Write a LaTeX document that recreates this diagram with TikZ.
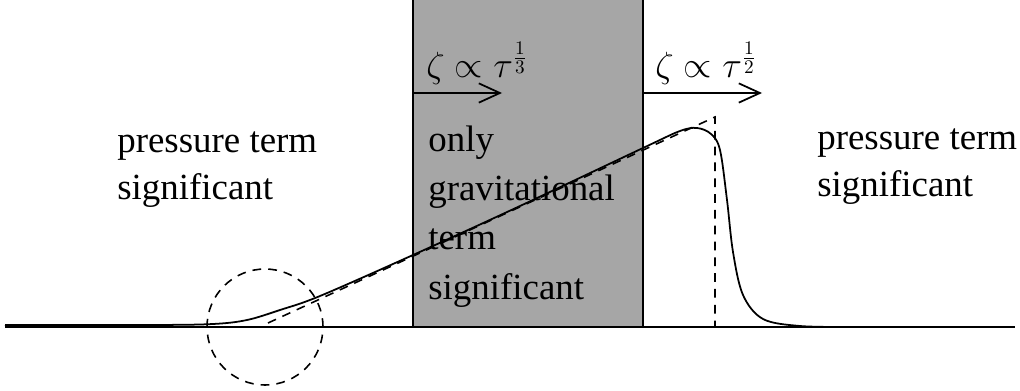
\documentclass[tikz,border=0pt]{standalone}
\usepackage{fontspec}
\setmainfont{Liberation Serif}
\usetikzlibrary{arrows.meta}
\begin{document}
\begin{tikzpicture}[x=0.02cm, y=-0.02cm,
            label/.style={anchor=base west, inner sep=0pt, align=left, font=\fontsize{21}{27}\selectfont},
            law/.style={anchor=base, inner sep=0pt, font=\fontsize{21}{27}\selectfont},
            guide/.style={dashed, line width=0.9pt, dash pattern=on 5pt off 4pt},
            lawarrow/.style={-{Straight Barb[length=12pt, width=11pt, line width=1pt]}, line width=1pt}
            ]
            \useasboundingbox (0,0) rectangle (1020,391);
            % region where only gravity matters
            \fill[black!35] (413,0) rectangle (643,327);
            \draw[line width=1pt] (413,0) -- (413,327);
            \draw[line width=1pt] (643,0) -- (643,327);

            \coordinate (l) at (5,327);
            \coordinate (r) at (1015,327);
            \draw[line width=1pt] (l) -- (r);

            \node[label] (p1) at (117,200) {pressure term\\significant};
            \node[label, font=\fontsize{21}{28}\selectfont] (g) at (428,299) {only\\gravitational\\term\\significant};
            \node[label] (p2) at (817,197) {pressure term\\significant};

            % growth laws
            \coordinate (a1) at (413,93);
            \coordinate (b1) at (502,93);
            \coordinate (a2) at (643,93);
            \coordinate (b2) at (762,93);
            \draw[lawarrow] (a1) -- (b1);
            \draw[lawarrow] (a2) -- (b2);
            \node[law] (z1) at (477,78) {$\zeta\propto\tau^{\frac{1}{3}}$};
            \node[law] (z2) at (706,78) {$\zeta\propto\tau^{\frac{1}{2}}$};

            % asymptotes
            \coordinate (s) at (268,323);
            \coordinate (t) at (715,117);
            \coordinate (u) at (715,327);
            \draw[guide] (s) -- (t) -- (u);
            \node[draw, guide, circle, minimum size=2.32cm, inner sep=0pt] (c) at (265,327) {};

            \draw[line width=1pt] plot[smooth, tension=0.55] coordinates {(5,325) (150,325) (213,324) (247,320) (280,310) (320,296) (413,255) (520,206) (643,148) (680,131) (697,128) (711,134) (720,150) (727,200) (733,252) (743,295) (763,319) (800,326) (850,327)};
\end{tikzpicture}
\end{document}
